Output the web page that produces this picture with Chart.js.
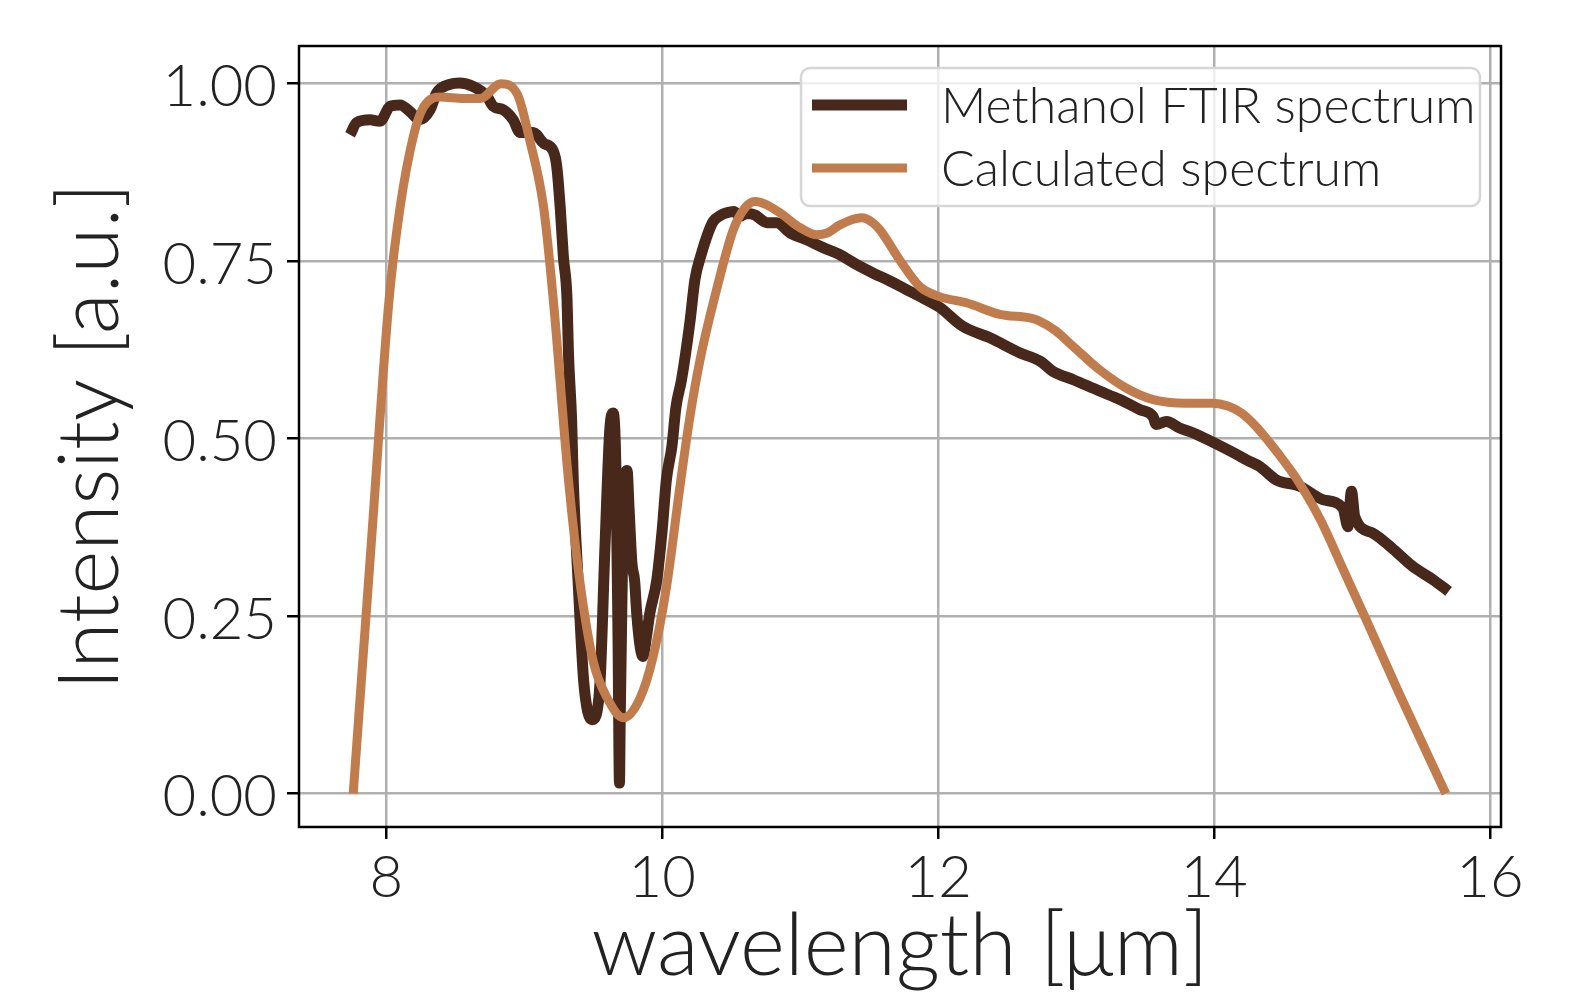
<!DOCTYPE html>
<html>
<head>
<meta charset="utf-8">
<script src="https://cdn.jsdelivr.net/npm/chart.js@4.4.1/dist/chart.umd.min.js"></script>
<style>
  html, body { margin: 0; padding: 0; background: #fff; }
  canvas { display: block; }
</style>
</head>
<body>
<canvas id="myChart" width="1584" height="999"></canvas>
<script>
// measured FTIR spectrum (wavelength in um, intensity in a.u.)
const ftirWavelength = [7.737, 7.785, 7.882, 7.954, 8.027, 8.10, 8.17, 8.24, 8.317, 8.365, 8.46, 8.53, 8.63, 8.73, 8.775,
    8.85, 8.92, 8.97, 9.065, 9.14, 9.21, 9.235, 9.26, 9.283, 9.31, 9.32, 9.343, 9.355, 9.39, 9.43, 9.46, 9.49, 9.52,
    9.55, 9.585, 9.62, 9.645, 9.665, 9.68, 9.69, 9.695, 9.71, 9.73, 9.745, 9.76, 9.78, 9.80, 9.815, 9.84, 9.86, 9.885,
    9.91, 9.96, 10.0, 10.03, 10.07, 10.10, 10.14, 10.20, 10.237, 10.285, 10.333, 10.37, 10.42, 10.467, 10.52, 10.563,
    10.61, 10.672, 10.72, 10.757, 10.83, 10.925, 11.046, 11.167, 11.288, 11.41, 11.53, 11.65, 11.77, 11.89, 12.01,
    12.18, 12.375, 12.59, 12.74, 12.83, 12.98, 13.17, 13.317, 13.46, 13.558, 13.58, 13.655, 13.75, 13.85, 13.99, 14.19,
    14.235, 14.33, 14.45, 14.62, 14.79, 14.935, 14.97, 14.996, 15.02, 15.15, 15.30, 15.44, 15.59, 15.70];
const ftirIntensity = [0.928, 0.945, 0.949, 0.947, 0.968, 0.970, 0.961, 0.949, 0.963, 0.987, 0.999, 1.001, 0.996, 0.982, 0.968,
    0.963, 0.949, 0.931, 0.931, 0.916, 0.905, 0.884, 0.827, 0.757, 0.696, 0.621, 0.527, 0.442, 0.30, 0.16, 0.115, 0.104, 0.11,
    0.16, 0.348, 0.513, 0.536, 0.45, 0.21, 0.015, 0.10, 0.30, 0.447, 0.455, 0.40, 0.325, 0.30, 0.254, 0.207, 0.193, 0.22,
    0.254, 0.30, 0.372, 0.442, 0.489, 0.545, 0.583, 0.663, 0.724, 0.761, 0.79, 0.806, 0.814, 0.818, 0.82, 0.813,
    0.817, 0.815, 0.808, 0.804, 0.804, 0.79, 0.78, 0.769, 0.759, 0.745, 0.733, 0.722, 0.71, 0.698, 0.685,
    0.658, 0.642, 0.621, 0.609, 0.595, 0.583, 0.567, 0.555, 0.541, 0.531, 0.52, 0.524, 0.515, 0.508, 0.495, 0.475,
    0.470, 0.461, 0.442, 0.433, 0.414, 0.402, 0.376, 0.426, 0.39, 0.367, 0.344, 0.32, 0.301, 0.285];

// calculated spectrum
const calcWavelength = [7.76, 7.89, 8.02, 8.10, 8.20, 8.27, 8.39, 8.56, 8.68, 8.83, 8.95, 9.04, 9.14, 9.21, 9.32, 9.40,
    9.50, 9.60, 9.72, 9.84, 9.93, 10.03, 10.13, 10.20, 10.273, 10.394, 10.515, 10.60, 10.672, 10.75, 10.853, 11.0,
    11.12, 11.20, 11.288, 11.445, 11.52, 11.578, 11.72, 11.867, 12.01, 12.21, 12.447, 12.664, 12.72, 12.85, 12.978, 13.17,
    13.365, 13.558, 13.80, 13.99, 14.10, 14.20, 14.30, 14.40, 14.50, 14.60, 14.77, 14.94, 15.10, 15.34, 15.68];
const calcIntensity = [0.0, 0.35, 0.696, 0.826, 0.929, 0.967, 0.981, 0.979, 0.979, 1.0, 0.985, 0.92, 0.826, 0.696, 0.443, 0.303,
    0.186, 0.135, 0.107, 0.135, 0.19, 0.29, 0.435, 0.53, 0.61, 0.71, 0.794, 0.825, 0.834, 0.83, 0.818, 0.797,
    0.787, 0.79, 0.801, 0.811, 0.805, 0.794, 0.752, 0.714, 0.700, 0.691, 0.675, 0.670, 0.667, 0.652, 0.630, 0.597,
    0.571, 0.555, 0.550, 0.550, 0.546, 0.536, 0.518, 0.495, 0.470, 0.443, 0.386, 0.314, 0.246, 0.142, 0.0];

const xTicks = [8, 10, 12, 14, 16];
const yTicks = [0, 0.25, 0.5, 0.75, 1.0];
const labels = ['Methanol FTIR spectrum', 'Calculated spectrum'];
const colors = ['#47281a', '#c17c4d'];

const FONT = 'Lato';
const TEXT = '#222222';

function toPoints(xs, ys) {
    return xs.map((x, i) => ({x: x, y: ys[i]}));
}

// black box around the plotting area
const framePlugin = {
    id: 'frame',
    afterDatasetsDraw(chart) {
        const a = chart.chartArea, c = chart.ctx;
        c.save();
        c.strokeStyle = '#000';
        c.lineWidth = 2.5;
        c.strokeRect(a.left, a.top, a.right - a.left, a.bottom - a.top);
        c.restore();
    }
};

// matplotlib-style legend box in the upper right corner
const legendPlugin = {
    id: 'mplLegend',
    afterDraw(chart) {
        const a = chart.chartArea, c = chart.ctx;
        const w = 679, h = 138;
        const x0 = a.right - 21 - w, y0 = a.top + 22;
        c.save();
        c.beginPath();
        c.roundRect(x0, y0, w, h, 9);
        c.fillStyle = 'rgba(255,255,255,0.8)';
        c.fill();
        c.strokeStyle = '#d6d6d6';
        c.lineWidth = 2.5;
        c.stroke();
        c.font = '300 50px ' + FONT;
        c.textBaseline = 'middle';
        chart.data.datasets.forEach((ds, i) => {
            const yy = y0 + 37 + i * 63;
            c.strokeStyle = ds.borderColor;
            c.lineWidth = ds.borderWidth;
            c.beginPath();
            c.moveTo(x0 + 11, yy);
            c.lineTo(x0 + 106, yy);
            c.stroke();
            c.fillStyle = TEXT;
            c.fillText(ds.label, x0 + 140, yy + 2);
        });
        c.restore();
    }
};

const data = {datasets: [{
    label: labels[0],
    data: toPoints(ftirWavelength, ftirIntensity),
    borderColor: colors[0],
    backgroundColor: colors[0],
    borderWidth: 11,
    order: 2
}, {
    label: labels[1],
    data: toPoints(calcWavelength, calcIntensity),
    borderColor: colors[1],
    backgroundColor: colors[1],
    borderWidth: 9,
    order: 1
}]};

const gridStyle = {
    color: '#b0b0b0',
    lineWidth: 2.5,
    tickColor: '#000',
    tickLength: 12,
    tickWidth: 2.5
};

const options = {
    responsive: false,
    animation: false,
    parsing: false,
    layout: {padding: {top: 46, right: 83, left: 0, bottom: 0}},
    elements: {
        point: {radius: 0},
        line: {cubicInterpolationMode: 'monotone', borderJoinStyle: 'round', borderCapStyle: 'butt'}
    },
    plugins: {legend: {display: false}, tooltip: {enabled: false}},
    scales: {
        x: {
            type: 'linear',
            min: 7.367,
            max: 16.08,
            grid: gridStyle,
            border: {display: false},
            afterBuildTicks: s => { s.ticks = xTicks.map(v => ({value: v})); },
            afterFit: s => { s.height = 172; },
            ticks: {
                color: TEXT,
                padding: 4,
                font: {family: FONT, size: 58, weight: '300'},
                callback: v => String(v)
            },
            title: {
                display: true,
                text: 'wavelength [μm]',
                color: TEXT,
                padding: {top: -6, bottom: 0},
                font: {family: FONT, size: 86, weight: '300'}
            }
        },
        y: {
            type: 'linear',
            min: -0.047,
            max: 1.053,
            grid: gridStyle,
            border: {display: false},
            afterBuildTicks: s => { s.ticks = yTicks.map(v => ({value: v})); },
            afterFit: s => { s.width = 299; },
            ticks: {
                color: TEXT,
                padding: 10,
                labelOffset: 4,
                font: {family: FONT, size: 58, weight: '300'},
                callback: v => v.toFixed(2)
            },
            title: {
                display: true,
                text: 'Intensity [a.u.]',
                color: TEXT,
                padding: {top: 41, bottom: 0},
                font: {family: FONT, size: 84, weight: '300'}
            }
        }
    }
};

const myChart = new Chart(document.getElementById('myChart'), {
    type: 'line',
    data: data,
    options: options,
    plugins: [framePlugin, legendPlugin]
});
</script>
</body>
</html>
